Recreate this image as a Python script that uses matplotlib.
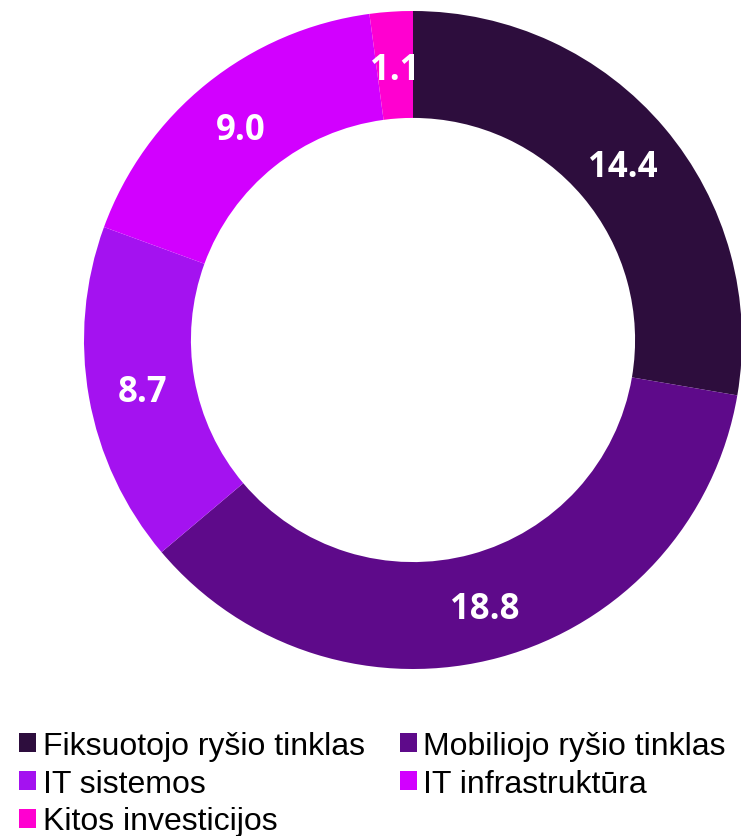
import matplotlib
matplotlib.use("Agg")
import matplotlib.pyplot as plt
from matplotlib.patches import Patch
import numpy as np

categories = ["Fiksuotojo ryšio tinklas", "Mobiliojo ryšio tinklas", "IT sistemos",
              "IT infrastruktūra", "Kitos investicijos"]
values = [14.4, 18.8, 8.7, 9.0, 1.1]
value_labels = ["14.4", "18.8", "8.7", "9.0", "1.1"]
colors = ["#2D0D3D", "#5E0A8A", "#A412F0", "#D200FF", "#FF00D0"]

W, H = 741, 837
fig = plt.figure(figsize=(W / 100, H / 100), dpi=100)
cx, cy, R = 413, 341, 329
ax = fig.add_axes([(cx - R) / W, (H - cy - R) / H, 2 * R / W, 2 * R / H])
wedges, _ = ax.pie(values, colors=colors, startangle=90, counterclock=False,
                   radius=1.0, wedgeprops=dict(width=0.325, edgecolor="none"))
ax.set_xlim(-1, 1)
ax.set_ylim(-1, 1)
ax.set_aspect("equal")
ax.axis("off")

total = sum(values)
ang = 90.0
for v, lab in zip(values, value_labels):
    span = v / total * 360
    mid = np.deg2rad(ang - span / 2)
    r = 0.835
    ax.text(r * np.cos(mid), r * np.sin(mid) - 0.012, lab, ha="center", va="center",
            color="white", fontsize=25, fontweight="bold", family="Open Sans")
    ang -= span

# legend filled row-wise (matplotlib fills column-wise, so reorder)
order = [0, 2, 4, 1, 3]
handles = [Patch(facecolor=colors[i], edgecolor="none") for i in order]
labels = [categories[i] for i in order]
fig.legend(handles, labels, ncol=2, loc="upper left",
           bbox_to_anchor=(19 / W, 1 - 732 / H), frameon=False,
           prop={"family": "Liberation Sans", "size": 23},
           handlelength=0.54, handleheight=0.54, handletextpad=0.2,
           columnspacing=1.1, labelspacing=0.24, borderpad=0, borderaxespad=0)

fig.savefig("out.png", dpi=100)
